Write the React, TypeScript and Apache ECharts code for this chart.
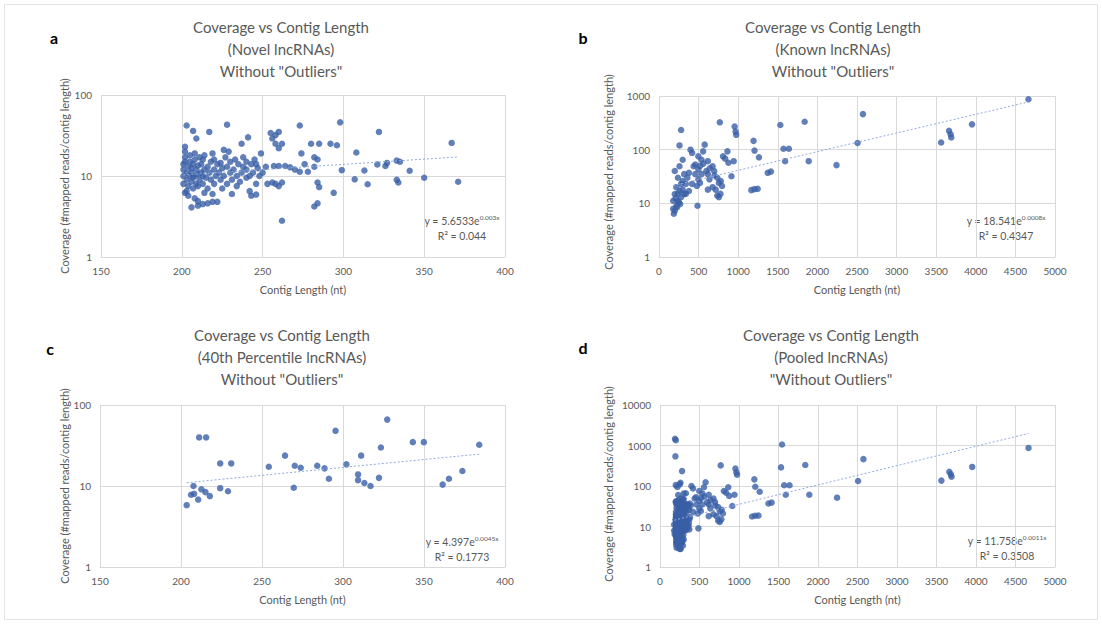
import React, { useEffect, useRef } from "react";
import * as echarts from "echarts";

// ---------- DATA ----------
// Panel a: Novel lncRNAs  [contig length (nt), coverage]
const novelPoints: [number, number][] = [
  [203, 42], [207, 36], [209, 29], [217, 35], [228, 43], [241, 30], [237, 25], [226, 21], [255, 34], [258, 32],
  [260, 35], [256, 29], [258, 25], [260, 22], [262, 25], [273, 42], [298, 46], [322, 35], [367, 25.6], [280, 25],
  [285, 25], [292, 25], [296, 24], [274, 19], [282, 17], [284, 16], [308, 19.5], [249, 19], [238, 17], [220, 16],
  [227, 17], [230, 15], [224, 14.5], [260, 13.3], [257, 13.3], [264, 13.3], [267, 12.8], [270, 12], [273, 11.3], [276, 14],
  [278, 11.3], [282, 13], [299, 11.8], [307, 9.1], [313, 11.7], [315, 7.9], [321, 13.9], [326, 13.3], [327, 14.5], [333, 15.5],
  [335, 15], [333, 9], [334, 8.3], [341, 11.6], [350, 9.5], [371, 8.5], [284, 8.3], [285, 7.3], [294, 6.2], [253, 8],
  [256, 8.3], [258, 8], [260, 7.5], [262, 8.3], [284, 4.6], [282, 4.2], [262, 2.8], [243, 5.7], [246, 5.9], [242, 6.5],
  [231, 6], [206, 4.1], [210, 4.3], [213, 4.5], [216, 4.6], [219, 4.8], [222, 4.8], [204, 5.7], [208, 5.3], [210, 4.9],
  [202, 6.2], [201, 8], [201, 10], [201, 12], [201, 14], [202, 17], [202, 20], [202, 23], [202, 15], [203, 9],
  [203, 11], [203, 6.5], [204, 7.5], [204, 13], [205, 10], [205, 15], [205, 18], [206, 8.5], [206, 11], [206, 12.5],
  [207, 7], [207, 9.5], [207, 14], [208, 10], [208, 16], [208, 19], [209, 8], [209, 12], [210, 10.5], [210, 13.5],
  [210, 7.5], [211, 9], [211, 17], [212, 11], [212, 14], [213, 8], [213, 10], [214, 12], [214, 18], [215, 9.5],
  [216, 7], [216, 13], [217, 11], [218, 15], [218, 9], [220, 12], [220, 8], [221, 10], [222, 14], [223, 11],
  [224, 9], [225, 12.5], [226, 10], [228, 8], [228, 13], [230, 11], [231, 9], [232, 12], [234, 10], [235, 14],
  [236, 8.5], [237, 11], [238, 13], [240, 9.5], [240, 12], [242, 10], [243, 14], [244, 11], [246, 8], [247, 12.5],
  [248, 10], [245, 16], [250, 11], [252, 13], [233, 16], [229, 20], [219, 19], [213, 16], [240, 15], [246, 14],
  [234, 7.5], [225, 7], [219, 6], [214, 6.2],
];

// Panel b: Known lncRNAs
const knownPoints: [number, number][] = [
  [279, 233], [259, 120], [768, 323], [955, 269], [967, 217], [975, 189], [1532, 288], [1839, 331], [2575, 460], [4665, 871],
  [2507, 133], [3562, 136], [3662, 224], [3682, 194], [3690, 169], [3952, 296], [1194, 146], [1206, 96], [1262, 72], [1572, 104],
  [1640, 104], [1592, 61], [1890, 61], [2241, 51.5], [1373, 37], [1413, 39], [1166, 17.6], [1206, 18.4], [1246, 18.6], [864, 93],
  [808, 75], [836, 68], [943, 61], [876, 57], [915, 32], [486, 9], [577, 124], [557, 93], [398, 100], [418, 87],
  [497, 75], [537, 65], [617, 61], [458, 53], [677, 49], [697, 40], [736, 30], [756, 24], [716, 18], [736, 14],
  [617, 18], [677, 20], [617, 35], [597, 40], [637, 28], [537, 35], [497, 43], [517, 24], [478, 21], [438, 49],
  [458, 35], [497, 28], [299, 65], [199, 40], [259, 49], [239, 30], [219, 20], [199, 14.9], [179, 11.2], [179, 7.9],
  [187, 6.4], [299, 26], [338, 23], [378, 17], [318, 15], [279, 13], [259, 17], [239, 11], [219, 9], [199, 7.3],
  [299, 18], [358, 30], [418, 23], [378, 37], [318, 35], [279, 23], [338, 15], [239, 15], [267, 9.7], [796, 21],
  [776, 15], [756, 13], [780, 26], [700, 33], [560, 55], [520, 50], [640, 45], [210, 12.5], [230, 8.5], [250, 10.5],
];

// Panel c: 40th Percentile lncRNAs
const pct40Points: [number, number][] = [
  [203.5, 5.8], [207.7, 10], [206.2, 7.8], [208.1, 8.0], [210.6, 6.8], [212.6, 9.1], [215.1, 8.4], [217.8, 7.5], [211.2, 39.8], [215.5, 39.8],
  [224.2, 19], [231, 19], [224.2, 9.4], [229, 8.6], [254.2, 17.3], [264.2, 23.7], [269.6, 9.5], [270.2, 17.8], [273.9, 16.8], [284.1, 17.8],
  [288.6, 16.5], [291.3, 12.3], [295.4, 48], [302.1, 18.5], [309.3, 13.9], [309.3, 11.8], [311.2, 23.7], [313.2, 10.9], [317, 10], [322.2, 12.6],
  [323.4, 29.9], [327.3, 66], [343.1, 34.8], [349.9, 34.8], [361.5, 10.4], [365.4, 12.3], [373.7, 15.3], [384.1, 32.3],
];

// Panel d: pooled = a + b + c + these additional contigs
const pooledExtraPoints: [number, number][] = [
  [190, 1470], [200, 1350], [195, 540], [1545, 1060], [200, 105], [220, 95], [250, 110], [230, 60],
  [210, 3], [230, 3.3], [250, 2.8], [220, 4], [240, 3.6], [260, 4.2], [270, 3.8], [215, 5], [245, 4.6], [225, 6],
  [280, 5.5], [300, 4.8], [290, 3.4], [235, 3.1], [265, 5.2], [205, 3.6],
];

// Exponential trendlines y = a * e^(k x) and R²
const trendCoef = [5.6533, 18.541, 4.397, 11.758];
const trendRate = [0.003, 0.0008, 0.0045, 0.0011];
const trendRateLabel = ["0.003x", "0.0008x", "0.0045x", "0.0011x"];
const rSquared = ["0.044", "0.4347", "0.1773", "0.3508"];

const subtitles = ["(Novel lncRNAs)", "(Known lncRNAs)", "(40th Percentile lncRNAs)", "(Pooled lncRNAs)"];
const thirdLines = ['Without "Outliers"', 'Without "Outliers"', 'Without "Outliers"', '"Without Outliers"'];
const letters = ["a", "b", "c", "d"];

const xMins = [150, 0, 150, 0];
const xMaxs = [400, 5000, 400, 5000];
const xIntervals = [50, 500, 50, 500];
const yMaxs = [100, 1000, 100, 10000];

// ---------- LAYOUT ----------
const FONT = 'Lato, "Open Sans", "Noto Sans", sans-serif';
const GREY = "#595959";
const GRIDC = "#d9d9d9";
const DOT = "#3a5fa6";

const grids = [
  { left: 101, top: 95, width: 404, height: 162 },
  { left: 659, top: 96, width: 396, height: 161 },
  { left: 100, top: 405, width: 405, height: 162 },
  { left: 660, top: 405, width: 395, height: 162 },
];
const titleCenters = [[281, 16], [833, 16], [282, 324], [831, 324]];
const letterPos = [[54, 37], [583, 37], [50, 348], [583, 347]];
const yNamePos = [[64, 176], [608, 172], [64, 486], [608, 484]];
const eqPos = [[462, 220], [1006, 220], [462, 541], [1007, 540]];

export default function App() {
  const ref = useRef<HTMLDivElement>(null);
  useEffect(() => {
    if (!ref.current) return;
    const chart = echarts.init(ref.current, null, { renderer: "svg" });
    const panelData: [number, number][][] = [
      novelPoints,
      knownPoints,
      pct40Points,
      [...novelPoints, ...knownPoints, ...pct40Points, ...pooledExtraPoints],
    ];

    const series: any[] = [];
    const graphic: any[] = [
      {
        type: "rect",
        shape: { x: 4.5, y: 4.5, width: 1093, height: 615 },
        style: { fill: "none", stroke: "#e4e4e4", lineWidth: 1 },
        silent: true,
      },
    ];
    panelData.forEach((pts, i) => {
      series.push({
        type: "scatter",
        xAxisIndex: i,
        yAxisIndex: i,
        data: pts,
        symbol: "circle",
        symbolSize: 6.5,
        itemStyle: { color: DOT },
        z: 2,
      });
      const xs = pts.map((p) => p[0]);
      const lo = Math.min(...xs);
      const hi = Math.max(...xs);
      series.push({
        type: "line",
        xAxisIndex: i,
        yAxisIndex: i,
        data: [
          [lo, trendCoef[i] * Math.exp(trendRate[i] * lo)],
          [hi, trendCoef[i] * Math.exp(trendRate[i] * hi)],
        ],
        showSymbol: false,
        symbol: "none",
        lineStyle: { color: "#8faadc", width: 1, type: [2, 2] },
        z: 3,
        silent: true,
      });

      const g = grids[i];
      graphic.push({
        type: "text",
        x: titleCenters[i][0],
        y: titleCenters[i][1],
        style: {
          text: "Coverage vs Contig Length\n" + subtitles[i] + "\n" + thirdLines[i],
          fill: GREY,
          font: `15px ${FONT}`,
          align: "center",
          verticalAlign: "top",
          lineHeight: 22,
        },
      });
      graphic.push({
        type: "text",
        x: letterPos[i][0],
        y: letterPos[i][1],
        style: {
          text: letters[i],
          fill: "#000",
          font: `bold 16px ${FONT}`,
          align: "center",
          verticalAlign: "middle",
        },
      });
      graphic.push({
        type: "text",
        x: g.left + g.width / 2,
        y: g.top + g.height + 32,
        style: {
          text: "Contig Length (nt)",
          fill: GREY,
          font: `11px ${FONT}`,
          align: "center",
          verticalAlign: "middle",
        },
      });
      graphic.push({
        type: "text",
        x: yNamePos[i][0],
        y: yNamePos[i][1],
        rotation: Math.PI / 2,
        style: {
          text: "Coverage (#mapped reads/contig length)",
          fill: GREY,
          font: `11px ${FONT}`,
          align: "center",
          verticalAlign: "middle",
        },
      });
      graphic.push({
        type: "text",
        x: eqPos[i][0],
        y: eqPos[i][1],
        style: {
          text: `{m|y = ${trendCoef[i]}e}{s|${trendRateLabel[i]}}`,
          align: "center",
          verticalAlign: "middle",
          rich: {
            m: { fontSize: 10.5, fontFamily: FONT, fill: GREY, lineHeight: 13, verticalAlign: "bottom" },
            s: { fontSize: 6.5, fontFamily: FONT, fill: GREY, lineHeight: 13, verticalAlign: "top" },
          },
        },
      });
      graphic.push({
        type: "text",
        x: eqPos[i][0],
        y: eqPos[i][1] + 16,
        style: {
          text: `R² = ${rSquared[i]}`,
          fill: GREY,
          font: `10.5px ${FONT}`,
          align: "center",
          verticalAlign: "middle",
        },
      });
    });

    chart.setOption({
      animation: false,
      backgroundColor: "#ffffff",
      grid: grids.map((g) => ({ ...g, containLabel: false })),
      xAxis: grids.map((_, i) => ({
        type: "value",
        gridIndex: i,
        min: xMins[i],
        max: xMaxs[i],
        interval: xIntervals[i],
        axisLine: { show: true, lineStyle: { color: GRIDC } },
        axisTick: { show: false },
        splitLine: { show: true, lineStyle: { color: GRIDC, width: 1 } },
        axisLabel: { color: GREY, fontSize: 10, fontFamily: FONT, margin: 9, formatter: (v: number) => String(v) },
      })),
      yAxis: grids.map((_, i) => ({
        type: "log",
        logBase: 10,
        gridIndex: i,
        min: 1,
        max: yMaxs[i],
        axisLine: { show: false },
        axisTick: { show: false },
        splitLine: { show: true, lineStyle: { color: GRIDC, width: 1 } },
        axisLabel: { color: GREY, fontSize: 10, fontFamily: FONT, margin: 9, formatter: (v: number) => String(Math.round(v)) },
      })),
      series,
      graphic,
    });
    return () => chart.dispose();
  }, []);

  return (
    <div
      ref={ref}
      style={{ position: "absolute", left: 0, top: 0, width: 1102, height: 624, background: "#fff" }}
    />
  );
}
